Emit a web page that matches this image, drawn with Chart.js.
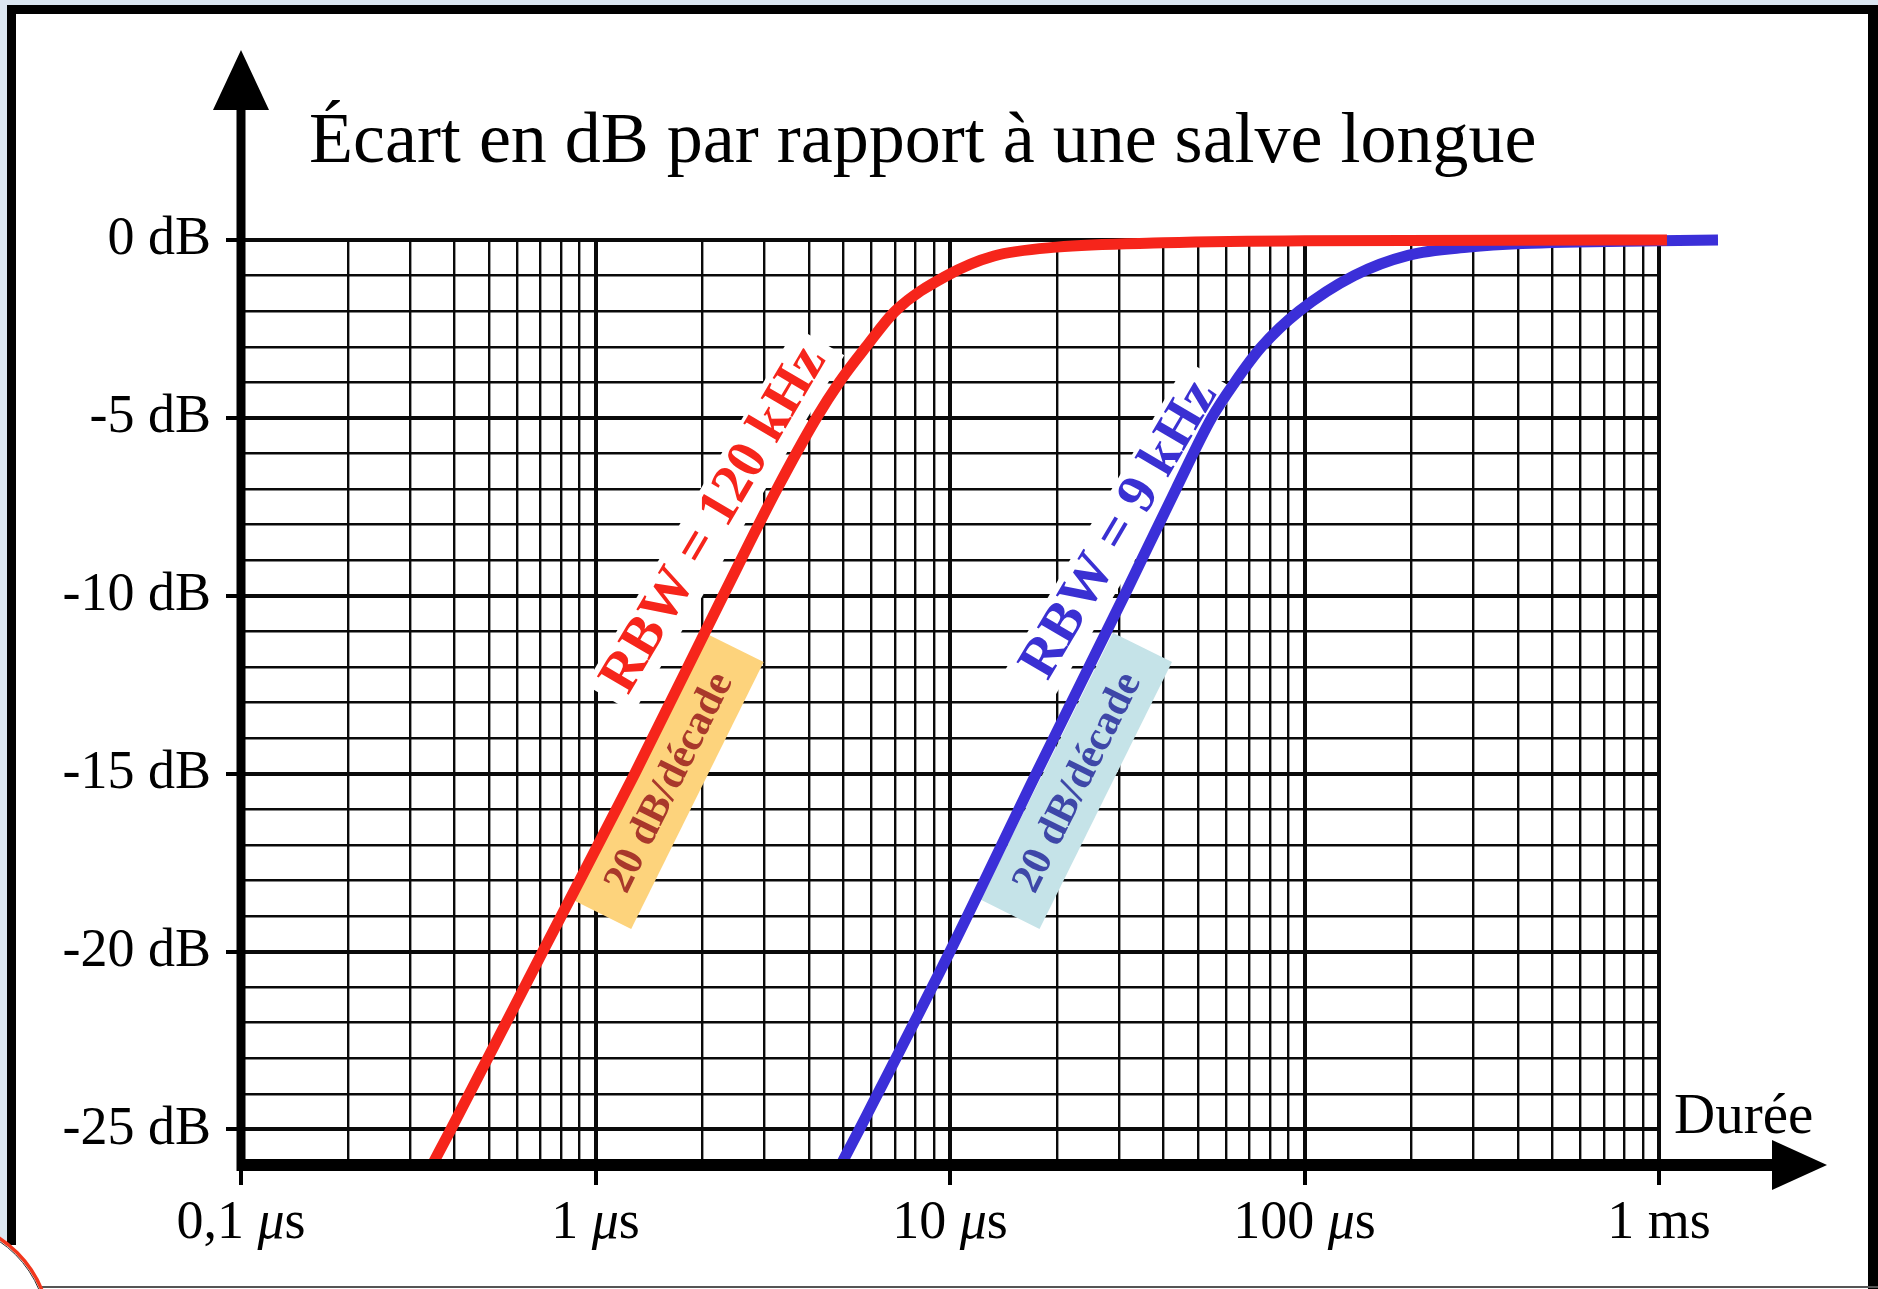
<!DOCTYPE html>
<html><head><meta charset="utf-8">
<script src="https://cdn.jsdelivr.net/npm/chart.js@4.4.1/dist/chart.umd.min.js"></script>
<style>html,body{margin:0;padding:0;background:#fff;overflow:hidden}#wrap{width:1878px;height:1289px}</style>
</head><body><div id="wrap"><canvas id="c" width="1878" height="1289"></canvas></div>
<script>
// ---- texts ----
const titleText = 'Écart en dB par rapport à une salve longue';
const xAxisTitle = 'Durée';
const seriesNames = ['RBW = 120 kHz', 'RBW = 9 kHz'];
const slopeLabel = '20 dB/décade';

// ---- data (durations in µs, deviation in dB) ----
const rbw120Time = [0.346, 0.391, 0.71, 1.29, 2.29, 3.25, 4.2, 4.87, 5.8, 7.0, 9.8, 13.3, 20, 40, 100, 1053];
const rbw120Db   = [-26, -25, -20, -15, -10, -7, -5, -4, -3, -2, -1, -0.45, -0.2, -0.08, -0.02, 0];
const rbw9Time   = [4.92, 5.55, 10.0, 17.5, 31.0, 43.4, 54.7, 63.6, 75.7, 96.6, 138, 196, 291, 411, 1000, 1467];
const rbw9Db     = [-26, -25, -20, -15, -10, -7, -5, -4, -3, -2, -1, -0.43, -0.2, -0.1, -0.02, 0];

// ---- ticks ----
const xGridValues = [0.1,0.2,0.3,0.4,0.5,0.6,0.7,0.8,0.9,
                     1,2,3,4,5,6,7,8,9,
                     10,20,30,40,50,60,70,80,90,
                     100,200,300,400,500,600,700,800,900,1000];
const xLabelValues = [0.1, 1, 10, 100, 1000];
const xTickLabels  = ['0,1 μs', '1 μs', '10 μs', '100 μs', '1 ms'];
const yLabelValues = [0, -5, -10, -15, -20, -25];
const yTickLabels  = ['0 dB', '-5 dB', '-10 dB', '-15 dB', '-20 dB', '-25 dB'];
const xRange = [0.1, 1000];
const yRange = [-26, 0];

// ---- annotation anchors (data units) ----
const seriesLabelAnchors = [[2.17, -7.87], [30.2, -8.15]];
const slopeBoxAnchors    = [[1.60, -15.2], [22.7, -15.2]];

const W = 1878, H = 1289;
const SERIF = '"Liberation Serif", "Times New Roman", serif';
const RED = '#F6251B', BLUE = '#3B2FD8';

function rotRect(c, cx, cy, w, h, ang, fill) {
  c.save(); c.translate(cx, cy); c.rotate(ang);
  c.fillStyle = fill; c.fillRect(-w / 2, -h / 2, w, h); c.restore();
}
function rotText(c, txt, cx, cy, ang, font, color) {
  c.save(); c.translate(cx, cy); c.rotate(ang);
  c.font = font; c.fillStyle = color; c.textAlign = 'center'; c.textBaseline = 'middle';
  c.fillText(txt, 0, 0); c.restore();
}
const deg = d => d * Math.PI / 180;

const deco = {
  id: 'deco',
  beforeDraw(chart) {
    const c = chart.ctx;
    c.save();
    c.fillStyle = '#dbe6f1'; c.fillRect(0, 0, W, H);
    c.fillStyle = '#ffffff'; c.fillRect(7, 5, W - 7, H - 5);
    c.fillStyle = '#000';
    c.fillRect(7, 5, W - 7, 9);
    c.fillRect(7, 5, 9, 1240);
    c.fillRect(1868, 5, 10, H - 5);
    c.fillStyle = '#555'; c.fillRect(40, 1286, W - 40, 2);
    c.beginPath(); c.arc(-62, 1332, 112, 0, Math.PI * 2);
    c.fillStyle = '#fff'; c.fill();
    c.lineWidth = 3.5; c.strokeStyle = '#F2361C'; c.stroke();
    c.beginPath(); c.arc(-62, 1332, 109.5, 0, Math.PI * 2);
    c.lineWidth = 1; c.strokeStyle = '#333'; c.stroke();
    c.restore();
  },
  beforeDatasetsDraw(chart) {
    const c = chart.ctx, xs = chart.scales.x, ys = chart.scales.y;
    c.save();
    c.font = 'bold 56px ' + SERIF;
    seriesLabelAnchors.forEach((a, i) => {
      const w = c.measureText(seriesNames[i]).width;
      rotRect(c, xs.getPixelForValue(a[0]), ys.getPixelForValue(a[1]), w + 24, 56, deg(-59.5), '#fff');
    });
    const fills = ['#FDD37C', '#C5E3E8'];
    slopeBoxAnchors.forEach((a, i) => {
      rotRect(c, xs.getPixelForValue(a[0]), ys.getPixelForValue(a[1]), 298, 66, deg(-63.6), fills[i]);
    });
    c.restore();
  },
  afterDatasetsDraw(chart) {
    const c = chart.ctx, xs = chart.scales.x, ys = chart.scales.y;
    const ax = xs.left, ay = ys.getPixelForValue(yRange[0]);
    c.save();
    c.fillStyle = '#000'; c.strokeStyle = '#000';
    c.fillRect(ax - 4, ay - 6, 1773 - (ax - 4), 12);
    c.beginPath(); c.moveTo(1772, ay - 25); c.lineTo(1827, ay); c.lineTo(1772, ay + 25); c.closePath(); c.fill();
    c.fillRect(ax - 4.5, 108, 9, ay + 6 - 108);
    c.beginPath(); c.moveTo(ax - 28, 110); c.lineTo(ax, 50); c.lineTo(ax + 28, 110); c.closePath(); c.fill();

    c.textBaseline = 'alphabetic'; c.textAlign = 'left';
    xLabelValues.forEach((v, i) => {
      const parts = xTickLabels[i].split(/(μ)/).filter(p => p.length);
      const fonts = parts.map(p => (p === 'μ' ? 'italic ' : '') + '54px ' + SERIF);
      let total = 0;
      const ws = parts.map((p, k) => { c.font = fonts[k]; const w = c.measureText(p).width; total += w; return w; });
      let x = xs.getPixelForValue(v) - total / 2;
      parts.forEach((p, k) => { c.font = fonts[k]; c.fillText(p, x, 1238); x += ws[k]; });
    });
    c.font = '57px ' + SERIF; c.fillText(xAxisTitle, 1674, 1133);
    c.font = '72px ' + SERIF; c.fillStyle = '#000'; c.fillText(titleText, 309, 162);

    const lblColors = [RED, '#3A30D2'];
    seriesLabelAnchors.forEach((a, i) => {
      rotText(c, seriesNames[i], xs.getPixelForValue(a[0]), ys.getPixelForValue(a[1]), deg(-59.5), 'bold 56px ' + SERIF, lblColors[i]);
    });
    const boxText = ['#A9382B', '#3E47A8'];
    slopeBoxAnchors.forEach((a, i) => {
      rotText(c, slopeLabel, xs.getPixelForValue(a[0]) + 2, ys.getPixelForValue(a[1]) + 2, deg(-63.6), 'bold 42px ' + SERIF, boxText[i]);
    });
    c.restore();
  }
};

const isDecade = v => xLabelValues.some(d => Math.abs(d - v) < 1e-9);

new Chart(document.getElementById('c'), {
  type: 'line',
  data: {
    datasets: [
      { label: seriesNames[0], data: rbw120Time.map((t, i) => ({ x: t, y: rbw120Db[i] })),
        borderColor: RED, borderWidth: 11, pointRadius: 0, cubicInterpolationMode: 'monotone', clip: false, borderCapStyle: 'butt' },
      { label: seriesNames[1], data: rbw9Time.map((t, i) => ({ x: t, y: rbw9Db[i] })),
        borderColor: BLUE, borderWidth: 11, pointRadius: 0, cubicInterpolationMode: 'monotone', clip: false, borderCapStyle: 'butt' }
    ]
  },
  options: {
    responsive: false, animation: false, devicePixelRatio: 1,
    layout: { padding: { top: 240, right: 219, bottom: 0, left: 0 } },
    plugins: { legend: { display: false }, tooltip: { enabled: false }, title: { display: false } },
    scales: {
      x: {
        type: 'logarithmic', bounds: 'data',
        afterDataLimits: s => { s.min = xRange[0]; s.max = xRange[1]; },
        afterBuildTicks: s => { s.min = xRange[0]; s.max = xRange[1]; s.ticks = xGridValues.map(v => ({ value: v, major: isDecade(v) })); },
        afterFit: s => { s.height = 124; },
        ticks: { display: false, autoSkip: false },
        border: { display: false },
        grid: {
          color: '#0a0a0a',
          lineWidth: ctx => (ctx.tick && isDecade(ctx.tick.value)) ? 4 : 2.4,
          drawTicks: true, tickLength: 20, tickWidth: 4,
          tickColor: ctx => (ctx.tick && isDecade(ctx.tick.value)) ? '#000' : 'rgba(0,0,0,0)'
        }
      },
      y: {
        type: 'linear', min: yRange[0], max: yRange[1],
        afterFit: s => { s.width = 241; },
        ticks: {
          stepSize: 1, autoSkip: false, padding: 15, color: '#000',
          font: { family: SERIF, size: 54 },
          callback: v => { const i = yLabelValues.indexOf(v); return i >= 0 ? yTickLabels[i] : ''; }
        },
        border: { display: false },
        grid: {
          color: '#0a0a0a',
          lineWidth: ctx => (ctx.tick && ctx.tick.value % 5 === 0) ? 4 : 2.4,
          drawTicks: true, tickLength: 15, tickWidth: 4,
          tickColor: ctx => (ctx.tick && yLabelValues.includes(ctx.tick.value)) ? '#000' : 'rgba(0,0,0,0)'
        }
      }
    }
  },
  plugins: [deco]
});
</script></body></html>
